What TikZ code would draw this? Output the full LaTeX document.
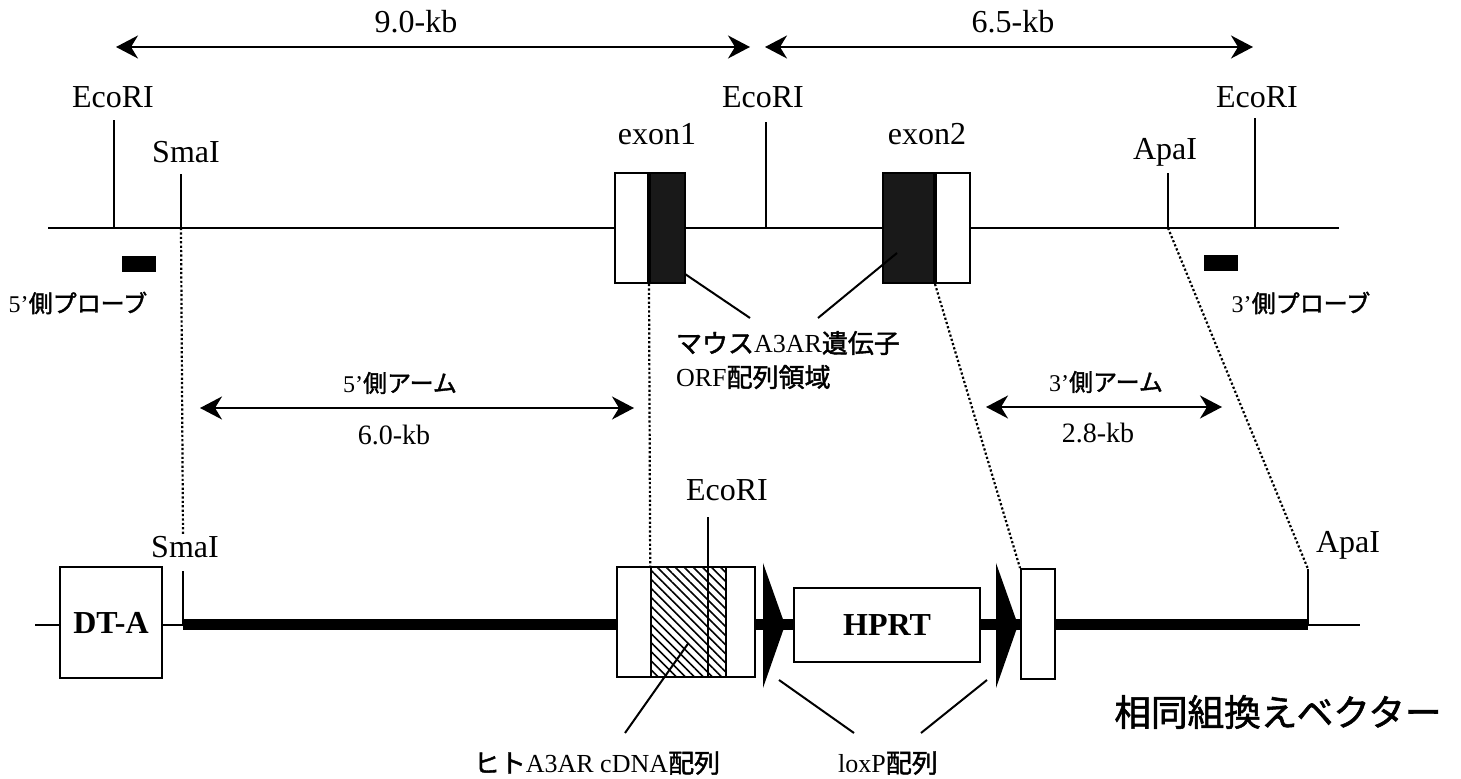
\documentclass[tikz,border=0pt]{standalone}
\usepackage{fontspec}
\setmainfont{Liberation Serif}
\newfontfamily\jp{Noto Sans CJK JP}[AutoFakeBold=1.6]
\newcommand{\jb}[1]{{\jp\bfseries #1}}
\usepackage{tikz}
\usetikzlibrary{arrows.meta, patterns.meta, calc, positioning}

\tikzset{
  site/.style={font=\fontsize{16}{18}\selectfont, inner sep=0pt},
  kb/.style={font=\fontsize{14}{16}\selectfont, inner sep=0pt},
  note/.style={font=\fontsize{12}{14}\selectfont, inner sep=0pt},
  orf/.style={font=\fontsize{13}{17}\selectfont, inner sep=0pt},
  box/.style={draw, fill=white, line width=1pt, inner sep=0pt},
  bold/.style={font=\bfseries\fontsize{16}{18}\selectfont},
  dotline/.style={line width=1.1pt, dash pattern=on 1.1pt off 1.1pt},
  span/.style={<->, line width=1pt},
}

\begin{document}
\begin{tikzpicture}[x=0.5pt, y=-0.5pt, line width=1pt,
    >={Stealth[length=11pt, width=11.5pt, inset=3.5pt]}]
    \useasboundingbox (0,0) rectangle (1461,779);

    % ゲノム側
    \draw (48,228) coordinate (gL) -- (1339,228) coordinate (gR);
    \foreach \n/\x/\t in {sEcoA/114/120, sSmaA/181/174, sEcoB/766/122, sApaA/1168/173, sEcoC/1255/118}
        {\coordinate (\n) at (\x,228); \draw (\n) -- (\x,\t) coordinate (\n-t);}
    \node[site, anchor=base] (lEcoA) at (113,108) {EcoRI};
    \node[site, anchor=base] (lSmaA) at (186,163) {SmaI};
    \node[site, anchor=base] (lEcoB) at (763,108) {EcoRI};
    \node[site, anchor=base] (lApaA) at (1165,160) {ApaI};
    \node[site, anchor=base] (lEcoC) at (1257,108) {EcoRI};

    % エクソン
    \node[box, minimum width=16.5pt, minimum height=55pt] (exA) at (631.5,228) {};
    \node[box, fill=black!90, minimum width=17.5pt, minimum height=55pt, right=0pt of exA] (exB) {};
    \node[box, fill=black!90, minimum width=25.5pt, minimum height=55pt] (exC) at (908.5,228) {};
    \node[box, minimum width=17pt, minimum height=55pt, right=0pt of exC] (exD) {};
    \node[site, anchor=base] (lEx1) at (657,145) {exon1};
    \node[site, anchor=base] (lEx2) at (927,145) {exon2};

    % 断片長
    \coordinate (k9L) at (116,47); \coordinate (k9R) at (750,47);
    \coordinate (k6L) at (765,47); \coordinate (k6R) at (1253,47);
    \draw[span] (k9L) -- (k9R);
    \draw[span] (k6L) -- (k6R);
    \node[site, anchor=base] (lK9) at (416,33) {9.0-kb};
    \node[site, anchor=base] (lK6) at (1013,33) {6.5-kb};

    % プローブ
    \node[fill=black, inner sep=0pt, minimum width=17pt, minimum height=8pt] (pr5) at (139,264) {};
    \node[fill=black, inner sep=0pt, minimum width=17pt, minimum height=8pt] (pr3) at (1221,263) {};
    \node[note] (lPr5) at (78,303) {5’\jb{側プローブ}};
    \node[note] (lPr3) at (1301,303) {3’\jb{側プローブ}};

    % ORF
    \node[orf, align=left, anchor=west] (lOrf) at (675,360)
        {\jb{マウス}A3AR\jb{遺伝子}\\ORF\jb{配列領域}};
    \coordinate (oA) at (750,318); \coordinate (oB) at (818,318);
    \draw ($(exB.south east)+(-1,-10)$) -- (oA);
    \draw ($(exC.south west)+(15,-31)$) -- (oB);

    % アーム
    \coordinate (a5L) at (200,408); \coordinate (a5R) at (634,408);
    \coordinate (a3L) at (986,407); \coordinate (a3R) at (1222,407);
    \draw[span] (a5L) -- (a5R);
    \draw[span] (a3L) -- (a3R);
    \node[note] (lArm5) at (400,383) {5’\jb{側アーム}};
    \node[note] (lArm3) at (1106,382) {3’\jb{側アーム}};
    \node[kb, anchor=base] (lK60) at (394,445) {6.0-kb};
    \node[kb, anchor=base] (lK28) at (1098,443) {2.8-kb};

    % ベクター側
    \draw (35,625) coordinate (vL) -- (1360,625) coordinate (vR);
    \draw[line width=5.5pt] (183,625) coordinate (vSma) -- (1308,625) coordinate (vApa);
    \node[box, bold, minimum width=51pt, minimum height=55.5pt] (dta) at (111,622.5) {DT-A};
    \draw (vSma) -- ++(0,-54) coordinate (vSma-t);
    \node[site, anchor=base] (lSmaV) at (185,558) {SmaI};

    \node[box, minimum width=69pt, minimum height=55pt] (vex) at (686,622) {};
    \node[draw, line width=1pt, inner sep=0pt, minimum width=37.5pt, minimum height=55pt,
        pattern={Lines[angle=-45, distance=3.2pt, line width=0.8pt]}] (vcd) at (688.5,622) {};
    \coordinate (vEco) at (708,567);
    \draw (vEco) -- (vEco |- vex.south);
    \draw (vEco) -- ++(0,-50) coordinate (vEco-t);
    \node[site, anchor=base] (lEcoV) at (727,501) {EcoRI};

    \foreach \x in {763,996}
        \fill (\x,563) -- (\x+22,625) -- (\x,688) -- cycle;
    \node[box, bold, minimum width=93pt, minimum height=37pt] (hprt) at (887,625) {HPRT};
    \node[box, minimum width=17pt, minimum height=55pt] (vsm) at (1038,624) {};
    \draw (vApa) -- ++(0,-56) coordinate (vApa-t);
    \node[site, anchor=base] (lApaV) at (1348,553) {ApaI};

    % 対応線
    \draw[dotline] (sSmaA) -- (lSmaV.north -| vSma);
    \draw[dotline] (exA.south east) -- (vcd.north west);
    \draw[dotline] (exC.south east) -- (vsm.north west);
    \draw[dotline] (sApaA) -- (vApa-t);

    % 下の注記
    \node[orf] (lCdna) at (597,763) {\jb{ヒト}A3AR cDNA\jb{配列}};
    \node[orf] (lLox) at (888,763) {loxP\jb{配列}};
    \coordinate (cA) at (625,733);
    \coordinate (xA) at (854,733); \coordinate (xB) at (921,733);
    \coordinate (lxA) at (779,680); \coordinate (lxB) at (987,680);
    \draw ($(vcd.center)+(0,21)$) -- (cA);
    \draw (lxA) -- (xA);
    \draw (lxB) -- (xB);
    \node[font=\fontsize{18.3}{20}\selectfont, inner sep=0pt] (lVec) at (1278,712) {\jb{相同組換えベクター}};
\end{tikzpicture}
\end{document}
